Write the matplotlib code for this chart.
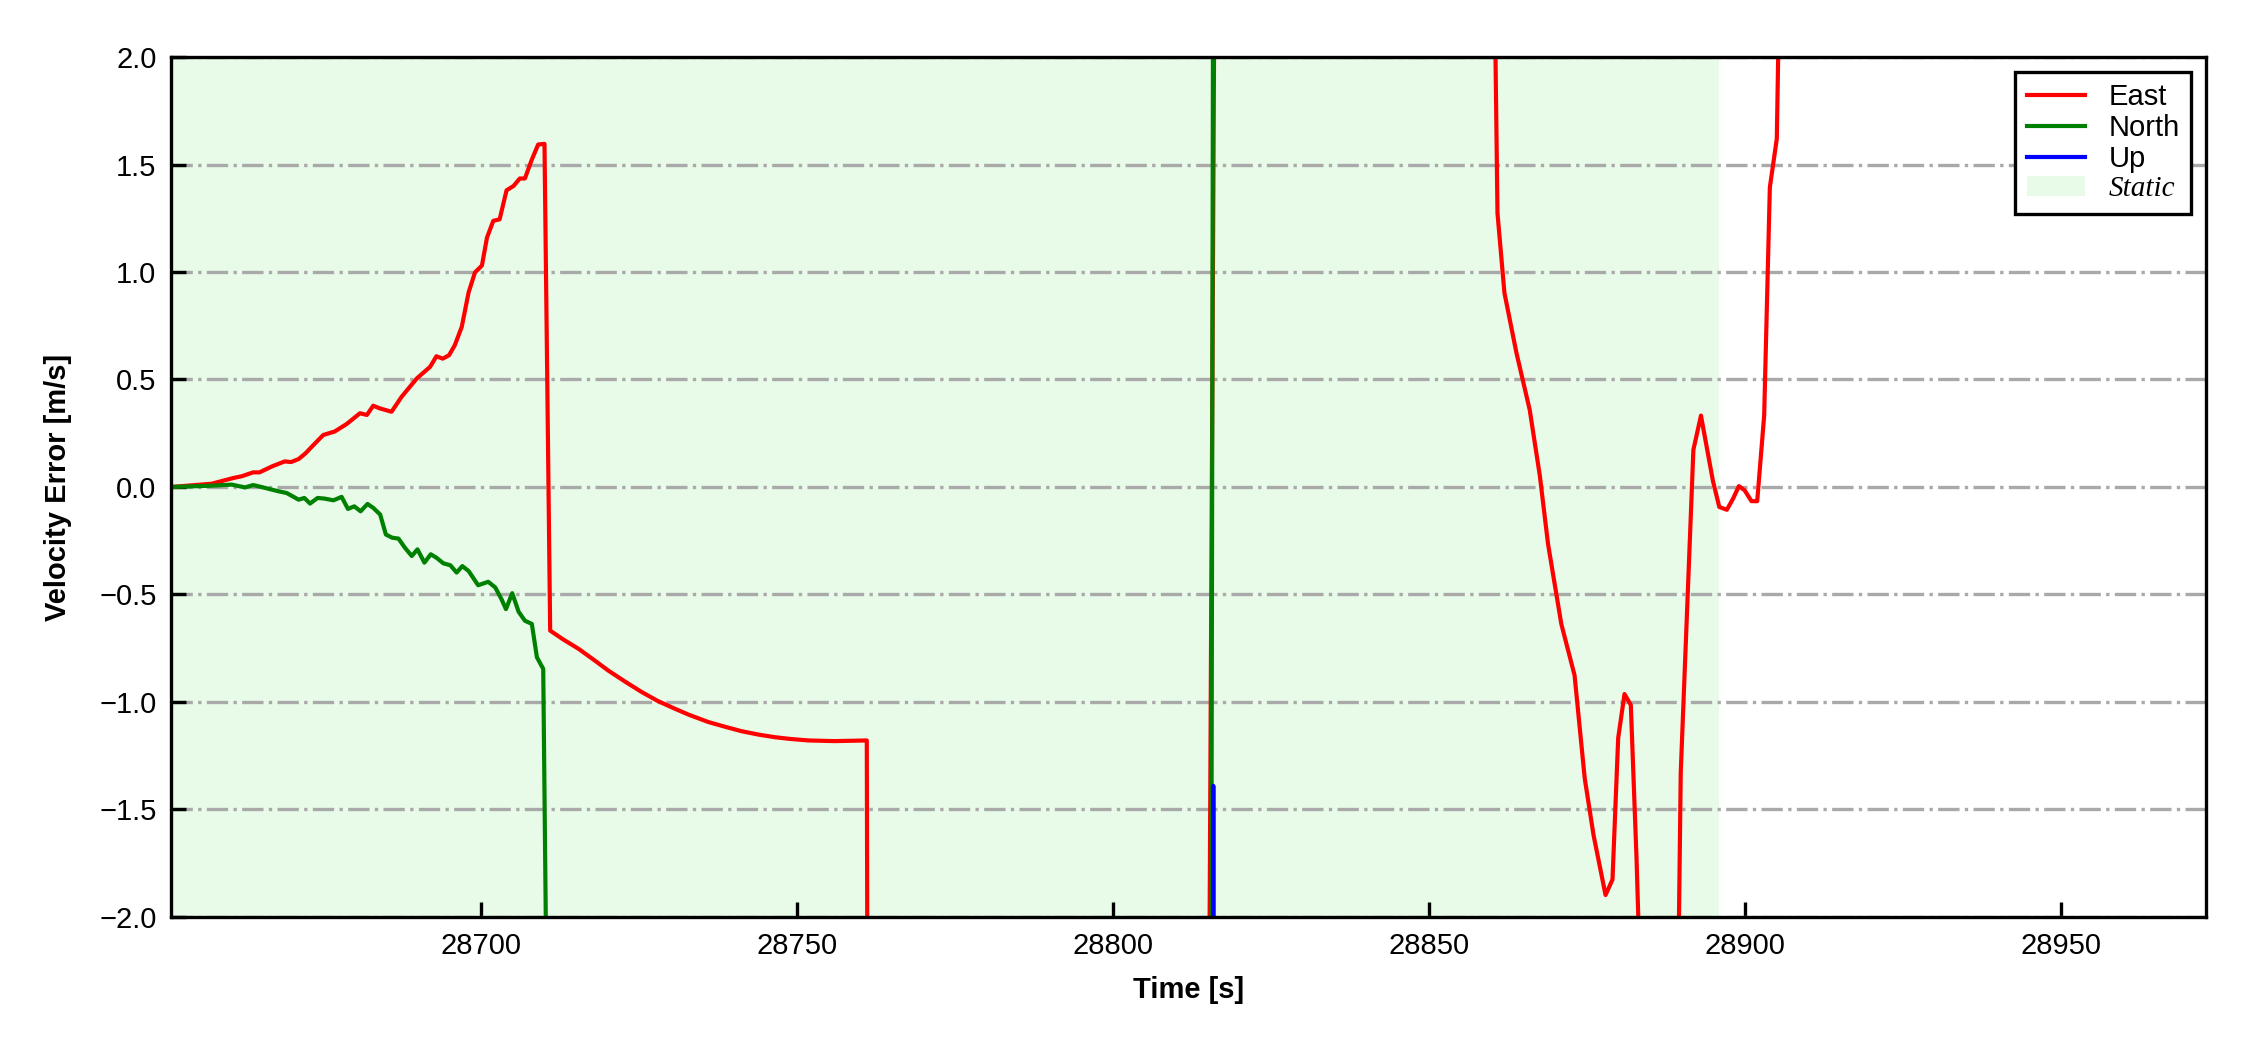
import matplotlib
matplotlib.use("Agg")
import matplotlib.pyplot as plt
from matplotlib.patches import Patch
from matplotlib.lines import Line2D

plt.rcParams['font.family'] = ['Liberation Sans', 'DejaVu Sans']

# ---------------- data ----------------
east_t = [28651.0, 28657.4, 28660.9, 28662.2, 28664.0, 28665.0, 28667.0, 28669.0, 28670.0,
          28671.2, 28672.3, 28673.3, 28675.1, 28676.9, 28678.8, 28680.9, 28682.0, 28683.0,
          28684.0, 28685.9, 28687.5, 28689.9, 28692.0, 28693.0, 28694.0, 28695.0, 28695.9,
          28697.0, 28698.1, 28699.1, 28700.2, 28701.0, 28702.0, 28703.0, 28704.1, 28705.2,
          28706.2, 28707.0, 28708.1, 28709.1, 28710.1, 28711.0, 28713.0, 28715.5, 28718.0,
          28720.2, 28723.0, 28725.5, 28728.0, 28730.7, 28733.0, 28736.0, 28739.0, 28741.3,
          28744.0, 28746.6, 28749.0, 28751.9, 28756.0, 28761.1, 28762.0, 28815.3,
          28816.1, 28817.0, 28859.9, 28860.9, 28862.0, 28863.9, 28866.0, 28867.6, 28868.9,
          28871.0, 28873.1, 28874.7, 28876.1, 28878.0, 28879.1, 28880.0, 28881.0, 28882.0,
          28882.9, 28884.0, 28886.0, 28889.0, 28889.9, 28891.9, 28893.1, 28895.0, 28896.0,
          28897.2, 28898.2, 28899.1, 28900.0, 28901.1, 28902.0, 28903.1, 28904.0, 28905.1,
          28906.0, 28973.0]
east_v = [0.000, 0.015, 0.042, 0.050, 0.068, 0.068, 0.096, 0.119, 0.116,
          0.130, 0.157, 0.188, 0.242, 0.258, 0.293, 0.343, 0.335, 0.378,
          0.366, 0.350, 0.420, 0.505, 0.559, 0.608, 0.597, 0.613, 0.659,
          0.744, 0.906, 0.998, 1.030, 1.160, 1.238, 1.245, 1.380, 1.400,
          1.435, 1.435, 1.523, 1.593, 1.596, -0.668, -0.708, -0.753, -0.806,
          -0.854, -0.908, -0.954, -0.995, -1.031, -1.060, -1.093, -1.118, -1.136,
          -1.152, -1.164, -1.172, -1.179, -1.182, -1.179, -12.0, -2.3,
          2.3, 10.0, 3.6, 1.274, 0.903, 0.624, 0.359, 0.053, -0.265,
          -0.637, -0.876, -1.354, -1.619, -1.898, -1.826, -1.168, -0.963, -1.014,
          -1.725, -2.8, -5.0, -3.5, -1.327, 0.173, 0.332, 0.027, -0.093,
          -0.106, -0.053, 0.004, -0.015, -0.066, -0.066, 0.332, 1.394, 1.620,
          3.2, 6.0]

north_t = [28651.0, 28657.4, 28660.6, 28662.7, 28664.0, 28665.3, 28668.0, 28669.3, 28671.2,
           28672.1, 28673.0, 28674.2, 28675.3, 28676.7, 28678.0, 28679.0, 28680.0, 28681.0,
           28682.1, 28683.0, 28684.1, 28685.0, 28686.0, 28687.0, 28688.0, 28689.1, 28690.0,
           28691.1, 28692.1, 28693.0, 28694.1, 28695.2, 28696.2, 28697.1, 28698.1, 28699.6,
           28701.2, 28702.3, 28703.3, 28704.0, 28705.0, 28706.0, 28707.0, 28708.1, 28708.9,
           28709.9, 28711.0, 28815.5, 28816.0, 28973.0]
north_v = [0.000, 0.006, 0.011, -0.002, 0.009, 0.000, -0.020, -0.028, -0.059,
           -0.051, -0.077, -0.051, -0.054, -0.062, -0.046, -0.102, -0.090, -0.113,
           -0.079, -0.097, -0.128, -0.221, -0.236, -0.240, -0.282, -0.321, -0.290,
           -0.352, -0.313, -0.329, -0.355, -0.364, -0.398, -0.368, -0.391, -0.457,
           -0.441, -0.467, -0.522, -0.568, -0.494, -0.580, -0.622, -0.637, -0.792,
           -0.846, -4.0, -4.0, 4.0, 5.0]

up_t = [28651.0, 28815.8, 28815.93, 28816.06, 28973.0]
up_v = [-3.0, -6.0, -1.39, -6.0, -6.0]

static_span = [28651.0, 28896.0]
x_ticks = [28700, 28750, 28800, 28850, 28900, 28950]
y_ticks = [-2.0, -1.5, -1.0, -0.5, 0.0, 0.5, 1.0, 1.5, 2.0]
x_limits = [28651.0, 28973.0]
y_limits = [-2.0, 2.0]

# ---------------- figure ----------------
fig = plt.figure(figsize=(7.5, 3.5), dpi=300)
ax = fig.add_axes([0.076, 0.1267, 0.9044, 0.819])

ax.axvspan(static_span[0], static_span[1], color='lightgreen', alpha=0.2, lw=0)
ax.plot(east_t, east_v, color='red', lw=1.0)
ax.plot(north_t, north_v, color='green', lw=1.0)
ax.plot(up_t, up_v, color='blue', lw=1.0)

ax.set_xlim(*x_limits)
ax.set_ylim(*y_limits)
ax.set_xticks(x_ticks)
ax.set_yticks(y_ticks)
ax.yaxis.grid(True, color='darkgray', linestyle='-.', linewidth=0.8)
ax.tick_params(direction='in', length=3.5, width=0.8, labelsize=7)
for s in ax.spines.values():
    s.set_linewidth(0.8)

ax.set_xlabel('Time [s]', fontsize=7, fontweight='bold')
ax.set_ylabel('Velocity Error [m/s]', fontsize=7, fontweight='bold', labelpad=6.5)

handles = [Line2D([], [], color='red', lw=1.0),
           Line2D([], [], color='green', lw=1.0),
           Line2D([], [], color='blue', lw=1.0),
           Patch(facecolor='lightgreen', alpha=0.2, edgecolor='none')]
leg = ax.legend(handles, ['East', 'North', 'Up', 'Static'], loc='upper right',
                fontsize=7, fancybox=False, edgecolor='black', framealpha=1,
                labelspacing=0.1)
leg.get_frame().set_linewidth(0.8)
st = leg.get_texts()[3]
st.set_fontfamily(['Liberation Serif', 'DejaVu Serif'])
st.set_fontstyle('italic')

fig.savefig('out.png', dpi=300)
